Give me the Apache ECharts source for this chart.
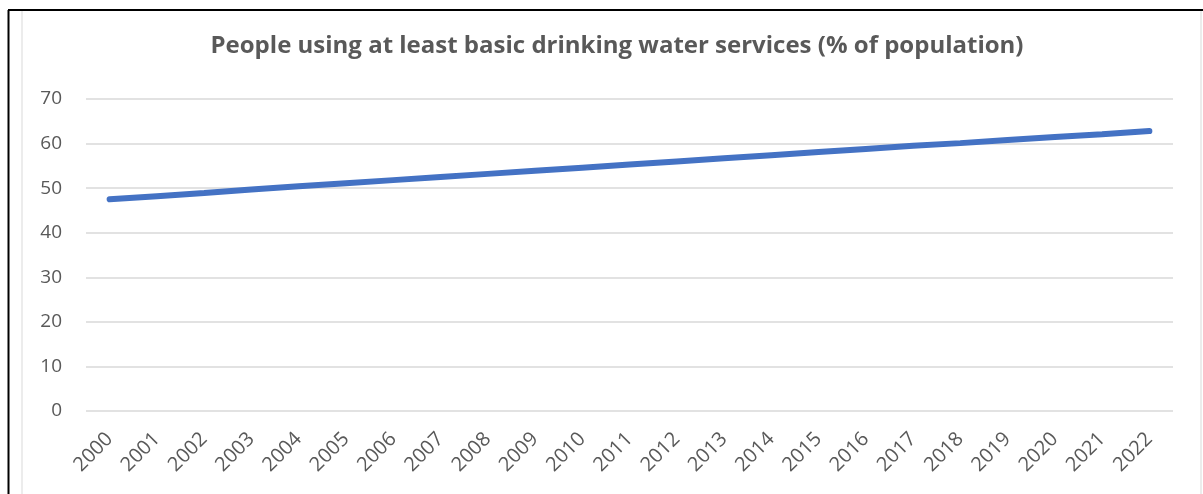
<!DOCTYPE html>
<html>
<head>
<meta charset="UTF-8">
<title>Drinking water</title>
<script src="https://cdn.jsdelivr.net/npm/echarts@6/dist/echarts.min.js"></script>
<style>
  html, body { margin: 0; padding: 0; background: #fff; }
  #chart { width: 1203px; height: 494px; }
</style>
</head>
<body>
<div id="chart"></div>
<script>
var chartTitle = 'People using at least basic drinking water services (% of population)';
var years = ['2000','2001','2002','2003','2004','2005','2006','2007','2008','2009','2010',
             '2011','2012','2013','2014','2015','2016','2017','2018','2019','2020','2021','2022'];
var waterPct = [47.5, 48.2, 48.9, 49.7, 50.4, 51.1, 51.8, 52.5, 53.2, 53.9, 54.6,
                55.3, 56.0, 56.7, 57.4, 58.1, 58.8, 59.5, 60.1, 60.8, 61.5, 62.1, 62.8];
var yMin = 0, yMax = 70, yStep = 10;

var font = '"Open Sans", "Noto Sans", sans-serif';
var chart = echarts.init(document.getElementById('chart'));
chart.setOption({
  animation: false,
  title: {
    text: chartTitle,
    left: 612, top: 29, textAlign: 'center',
    textStyle: { fontFamily: font, fontSize: 24, fontWeight: 'bold', color: '#595959' }
  },
  grid: { left: 86, right: 30, top: 99, bottom: 83, containLabel: false, outerBoundsMode: 'none' },
  xAxis: {
    type: 'category',
    data: years,
    boundaryGap: true,
    axisLine: { show: false },
    axisTick: { show: false },
    axisLabel: { rotate: 45, margin: 25, fontFamily: font, fontSize: 20, color: '#595959', interval: 0 }
  },
  yAxis: {
    type: 'value',
    min: yMin, max: yMax, interval: yStep,
    axisLine: { show: false },
    axisTick: { show: false },
    axisLabel: { margin: 24, fontFamily: font, fontSize: 19, color: '#595959' },
    splitLine: { lineStyle: { color: '#d9d9d9', width: 1.5 } }
  },
  series: [{
    type: 'line',
    data: waterPct,
    symbol: 'none',
    lineStyle: { color: '#4472c4', width: 6, cap: 'round' }
  }],
  graphic: [
    // outer frame of the screenshot
    { type: 'line', shape: { x1: 8.5, y1: 10, x2: 8.5, y2: 494 }, style: { stroke: '#000', lineWidth: 2 } },
    { type: 'line', shape: { x1: 8, y1: 10, x2: 1203, y2: 10 }, style: { stroke: '#000', lineWidth: 2 } },
    // chart area border
    { type: 'line', shape: { x1: 22, y1: 11, x2: 22, y2: 494 }, style: { stroke: '#d9d9d9', lineWidth: 1 } },
    { type: 'line', shape: { x1: 1201, y1: 11, x2: 1201, y2: 494 }, style: { stroke: '#d9d9d9', lineWidth: 1 } }
  ]
});
</script>
</body>
</html>
